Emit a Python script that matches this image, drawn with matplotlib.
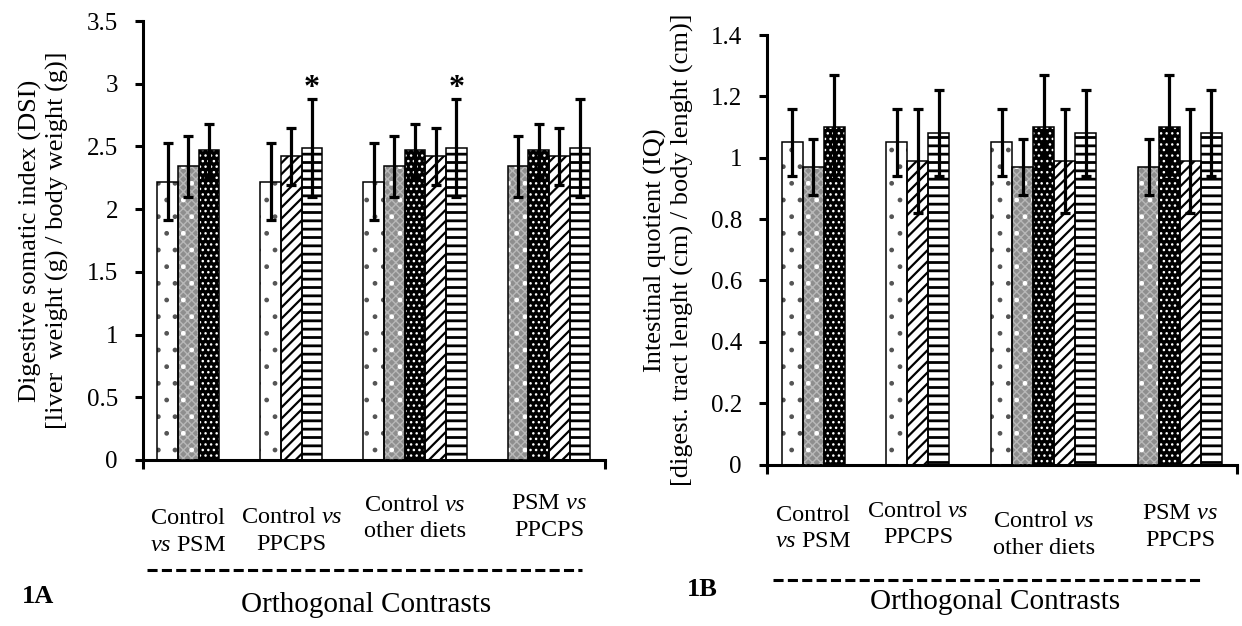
"""Digestive somatic index / intestinal quotient by orthogonal contrasts (1A, 1B)."""
import matplotlib
matplotlib.use("Agg")
import matplotlib.pyplot as plt
import numpy as np

plt.rcParams["font.family"] = ["Liberation Serif", "DejaVu Serif"]
plt.rcParams["mathtext.fontset"] = "custom"
plt.rcParams["mathtext.rm"] = "Liberation Serif"
plt.rcParams["mathtext.it"] = "Liberation Serif:italic"
plt.rcParams["mathtext.bf"] = "Liberation Serif:bold"
plt.rcParams["hatch.linewidth"] = 1.3

# five diets: control, two PSM diets, two PPCPS diets
DIETS = ["Control", "PSM1", "PSM2", "PPCPS1", "PPCPS2"]
DSI_MEAN = [2.22, 2.34, 2.47, 2.42, 2.49]
DSI_SD = [0.31, 0.24, 0.21, 0.23, 0.39]
IQ_MEAN = [1.05, 0.97, 1.10, 0.99, 1.08]
IQ_SD = [0.11, 0.09, 0.17, 0.17, 0.14]

CONTRASTS = ["Control\n$vs$ PSM", "Control $vs$\nPPCPS",
             "Control $vs$\nother diets", "PSM $vs$\nPPCPS"]
CONTRAST_DIETS = [[0, 1, 2], [0, 3, 4], [0, 1, 2, 3, 4], [1, 2, 3, 4]]
DSI_SIGNIF = [(1, 4), (2, 4)]  # (contrast, diet) flagged with *

# fill + hatch layers (pattern, colour, hatch line width) per diet
STYLE = {
    0: ("white", [(".", "#555555", 1.0)]),
    1: ("#8e8e8e", [("xxxx", "#b8b8b8", 1.0), (".", "white", 1.0)]),
    2: ("black", [("...", "white", 1.0)]),
    3: ("white", [("///", "black", 1.6)]),
    4: ("white", [("--", "black", 2.0)]),
}

W, H = 1242, 626
fig = plt.figure(figsize=(W / 100, H / 100), dpi=100)
ax_a = fig.add_axes([143 / W, 1 - 460 / H, 462 / W, 439 / H])
ax_b = fig.add_axes([767 / W, 1 - 464.5 / H, 470 / W, 429.5 / H])


def draw_panel(ax, mean, sd, ylim, ystep, ylabel, label_y, signif=()):
    start = 0
    for g, members in enumerate(CONTRAST_DIETS):
        xs = start + np.arange(len(members))
        for x, d in zip(xs, members):
            face, layers = STYLE[d]
            ax.bar(x, mean[d], width=1.0, color=face, linewidth=0, zorder=2)
            for hatch, hc, hlw in layers:
                with plt.rc_context({"hatch.linewidth": hlw}):
                    ax.bar(x, mean[d], width=1.0, color="none", edgecolor=hc,
                           hatch=hatch, linewidth=0, zorder=3)
            ax.bar(x, mean[d], width=1.0, fill=False, edgecolor="black",
                   linewidth=1.1, zorder=4)
            ax.errorbar(x, mean[d], yerr=sd[d], fmt="none", ecolor="black",
                        elinewidth=2.3, capsize=3.6, capthick=2.3, zorder=5)
            if (g, d) in signif:
                ax.annotate("*", (x, mean[d] + sd[d]), xytext=(0, 2),
                            textcoords="offset points", ha="center",
                            va="baseline", fontsize=23, fontweight="bold")
        ax.text(xs.mean(), label_y[g], CONTRASTS[g],
                transform=ax.get_xaxis_transform(), ha="center", va="center",
                fontsize=17.5, linespacing=1.35)
        start += len(members) + 2

    ax.set_xlim(-0.5 - 0.7, start - 2 - 0.5 + 0.72)
    ax.set_ylim(*ylim)
    ax.set_yticks(np.arange(0, ylim[1] + ystep / 2, ystep))
    ax.yaxis.set_major_formatter(plt.FuncFormatter(lambda v, p: f"{v:g}"))
    ax.set_xticks(ax.get_xlim())
    ax.set_xticklabels([])
    for s in ["top", "right"]:
        ax.spines[s].set_visible(False)
    for s in ["left", "bottom"]:
        ax.spines[s].set_linewidth(2.2)
    ax.tick_params(axis="y", length=6, width=2.2, pad=12, labelsize=18)
    ax.tick_params(axis="x", length=6.5, width=2.2)
    ax.set_ylabel(ylabel, fontsize=19, linespacing=1.2, va="center")


draw_panel(ax_a, DSI_MEAN, DSI_SD, (0, 3.5), 0.5,
           "Digestive somatic index (DSI)\n[liver  weight (g) / body weight (g)]",
           [-0.164, -0.162, -0.133, -0.130], DSI_SIGNIF)
draw_panel(ax_b, IQ_MEAN, IQ_SD, (0, 1.4), 0.2,
           "Intestinal quotient (IQ)\n[digest. tract lenght (cm) / body lenght (cm)]",
           [-0.149, -0.140, -0.164, -0.146])
ax_a.yaxis.set_label_coords(-0.215, 0.5)
ax_b.yaxis.set_label_coords(-0.209, 0.5)

# dashed bracket, panel tag and common x title under each panel
for ax, dash_x, dash_y, tag, tag_xy, title_xy in [
    (ax_a, (0.009, 0.950), -0.251, "1A", (-0.262, -0.312), (0.483, -0.330)),
    (ax_b, (0.013, 0.921), -0.269, "1B", (-0.170, -0.292), (0.485, -0.320)),
]:
    ax.plot(dash_x, [dash_y, dash_y], transform=ax.transAxes, clip_on=False,
            color="black", lw=2.2, ls=(0, (3.3, 1.4)))
    ax.text(*tag_xy, tag, transform=ax.transAxes, ha="left", va="center",
            fontsize=19, fontweight="bold")
    ax.text(*title_xy, "Orthogonal Contrasts", transform=ax.transAxes,
            ha="center", va="center", fontsize=21)

fig.savefig("out.png", dpi=100)
